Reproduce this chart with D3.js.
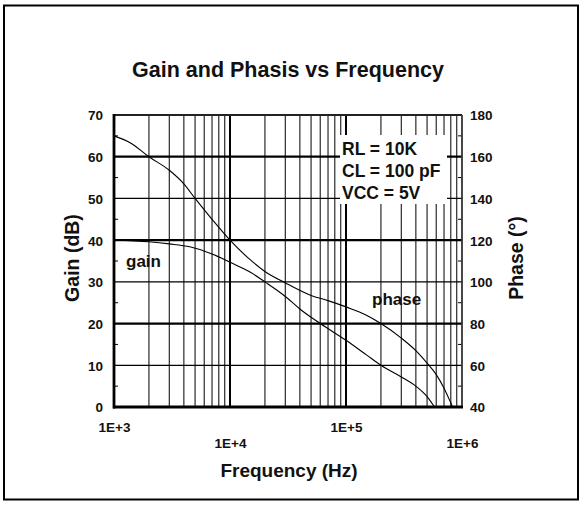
<!DOCTYPE html>
<html><head><meta charset="utf-8">
<script src="https://cdn.jsdelivr.net/npm/d3@7"></script>
<style>
body{margin:0;background:#fff}
text{font-family:"Liberation Sans",Arial,Helvetica,sans-serif;font-weight:bold;fill:#111}
</style>
</head><body>
<svg id="c" width="584" height="507"></svg>
<script>
// ---- data ----
const gainFreq = [1e3, 2e3, 3e3, 4.5e3, 7e3, 1e4, 1.5e4, 2e4, 3e4, 4e4, 6e4, 1e5, 1.5e5, 2e5, 3e5, 4e5, 5e5, 5.8e5];
const gainDb   = [40, 39.6, 39.1, 38.4, 36.7, 34.7, 32.3, 30, 26.5, 23.5, 20, 16, 12.5, 10, 7.2, 5, 2.5, 0];
const phaseFreq = [1e3, 1.4e3, 2e3, 3e3, 4e3, 5e3, 7e3, 1e4, 1.5e4, 2e4, 3e4, 5e4, 7e4, 1e5, 1.5e5, 2e5, 3e5, 4e5, 5e5, 6e5, 7e5, 8e5, 8.3e5];
const phaseDeg  = [170, 166.5, 160, 153.5, 147, 140, 130, 120, 110.5, 105, 99.5, 93.5, 91, 88, 84, 80, 73, 67, 61, 55.5, 49, 42, 40];
const xTicks = [1e3, 1e4, 1e5, 1e6];
const xTickLabels = ["1E+3", "1E+4", "1E+5", "1E+6"];
const gainTicks = [0, 10, 20, 30, 40, 50, 60, 70];
const phaseTicks = [40, 60, 80, 100, 120, 140, 160, 180];
const legendLines = ["RL = 10K", "CL = 100 pF", "VCC = 5V"];
const titleText = "Gain and Phasis vs Frequency";

// ---- layout ----
const L = 114, R = 462, T = 115, B = 407;
const svg = d3.select("#c");
const x = d3.scaleLog().domain([1e3, 1e6]).range([L, R]);
const yG = d3.scaleLinear().domain([0, 70]).range([B, T]);
const yP = d3.scaleLinear().domain([40, 180]).range([B, T]);

// outer frame
svg.append("rect").attr("x", 4).attr("y", 5.5).attr("width", 574).attr("height", 494)
  .attr("fill", "none").attr("stroke", "#000").attr("stroke-width", 2);

// title
svg.append("text").attr("x", 288).attr("y", 77).attr("text-anchor", "middle")
  .style("font-size", "21.5px").text(titleText);

const grid = svg.append("g");
// minor vertical gridlines
const minors = [];
[1e3, 1e4, 1e5].forEach(d => { for (let k = 2; k <= 9; k++) minors.push(d * k); });
grid.selectAll("line.vmin").data(minors).join("line")
  .attr("x1", d => x(d)).attr("x2", d => x(d)).attr("y1", T).attr("y2", B)
  .attr("stroke", "#3a3a3a").attr("stroke-width", 1.3);
// decade lines
grid.selectAll("line.vmaj").data([1e4, 1e5]).join("line")
  .attr("x1", d => x(d)).attr("x2", d => x(d)).attr("y1", T).attr("y2", B)
  .attr("stroke", "#000").attr("stroke-width", 2);
// horizontal gridlines
grid.selectAll("line.h").data(gainTicks.slice(1, -1)).join("line")
  .attr("x1", L).attr("x2", R).attr("y1", d => yG(d)).attr("y2", d => yG(d))
  .attr("stroke", "#000").attr("stroke-width", d => (d % 20 === 0 ? 2.2 : 1.2));

// minor y ticks inside axes
const gMin = d3.range(5, 70, 10);
grid.selectAll("line.lt").data(gMin).join("line")
  .attr("x1", L).attr("x2", L + 4).attr("y1", d => yG(d)).attr("y2", d => yG(d))
  .attr("stroke", "#000").attr("stroke-width", 1);
const pMin = d3.range(50, 180, 20);
grid.selectAll("line.rt").data(pMin).join("line")
  .attr("x1", R - 4).attr("x2", R).attr("y1", d => yP(d)).attr("y2", d => yP(d))
  .attr("stroke", "#000").attr("stroke-width", 1);

// curves
const lineG = d3.line().x((d, i) => x(gainFreq[i])).y(d => yG(d)).curve(d3.curveMonotoneX);
const lineP = d3.line().x((d, i) => x(phaseFreq[i])).y(d => yP(d)).curve(d3.curveMonotoneX);
svg.append("path").attr("d", lineG(gainDb)).attr("fill", "none").attr("stroke", "#000").attr("stroke-width", 1.1);
svg.append("path").attr("d", lineP(phaseDeg)).attr("fill", "none").attr("stroke", "#000").attr("stroke-width", 1.1);

// plot frame
svg.append("line").attr("x1", L).attr("x2", R).attr("y1", T).attr("y2", T).attr("stroke", "#222").attr("stroke-width", 2);
svg.append("line").attr("x1", R).attr("x2", R).attr("y1", T).attr("y2", B).attr("stroke", "#333").attr("stroke-width", 1.8);
svg.append("line").attr("x1", L).attr("x2", L).attr("y1", T - 1).attr("y2", B + 1.5).attr("stroke", "#000").attr("stroke-width", 2.8);
svg.append("line").attr("x1", L - 1).attr("x2", R + 1).attr("y1", B).attr("y2", B).attr("stroke", "#000").attr("stroke-width", 2.8);

// axes labels via d3 axes
const axL = svg.append("g").attr("transform", `translate(${L},0)`)
  .call(d3.axisLeft(yG).tickValues(gainTicks).tickSize(0).tickPadding(11));
const axR = svg.append("g").attr("transform", `translate(${R},0)`)
  .call(d3.axisRight(yP).tickValues(phaseTicks).tickSize(0).tickPadding(8));
const axB = svg.append("g").attr("transform", `translate(0,${B})`)
  .call(d3.axisBottom(x).tickValues(xTicks).tickFormat((d, i) => xTickLabels[i]).tickSize(0));
[axL, axR, axB].forEach(a => {
  a.select(".domain").remove();
  a.selectAll("text").style("font-size", "13.5px").style("font-family", null).attr("fill", "#111");
  a.attr("font-family", null).attr("font-size", null);
});
axL.selectAll("text").attr("dy", "0.36em");
axR.selectAll("text").attr("dy", "0.36em");
axB.selectAll("text").attr("y", (d, i) => (i % 2 === 0 ? 25 : 41)).attr("dy", 0);

// axis titles
svg.append("text").attr("x", 289).attr("y", 477).attr("text-anchor", "middle")
  .style("font-size", "19px").text("Frequency (Hz)");
svg.append("text").attr("transform", "translate(79,258) rotate(-90)").attr("text-anchor", "middle")
  .style("font-size", "19.5px").text("Gain (dB)");
svg.append("text").attr("transform", "translate(523,258) rotate(-90)").attr("text-anchor", "middle")
  .style("font-size", "19.5px").text("Phase (°)");

// curve labels
svg.append("text").attr("x", 126).attr("y", 267).style("font-size", "17px").text("gain");
svg.append("text").attr("x", 372).attr("y", 305).style("font-size", "17px").text("phase");

// legend box
svg.append("rect").attr("x", 340).attr("y", 135).attr("width", 107).attr("height", 69).attr("fill", "#fff");
svg.append("g").selectAll("text").data(legendLines).join("text")
  .attr("x", 342).attr("y", (d, i) => 155 + i * 22).style("font-size", "17.5px").text(d => d);
</script>
</body></html>
